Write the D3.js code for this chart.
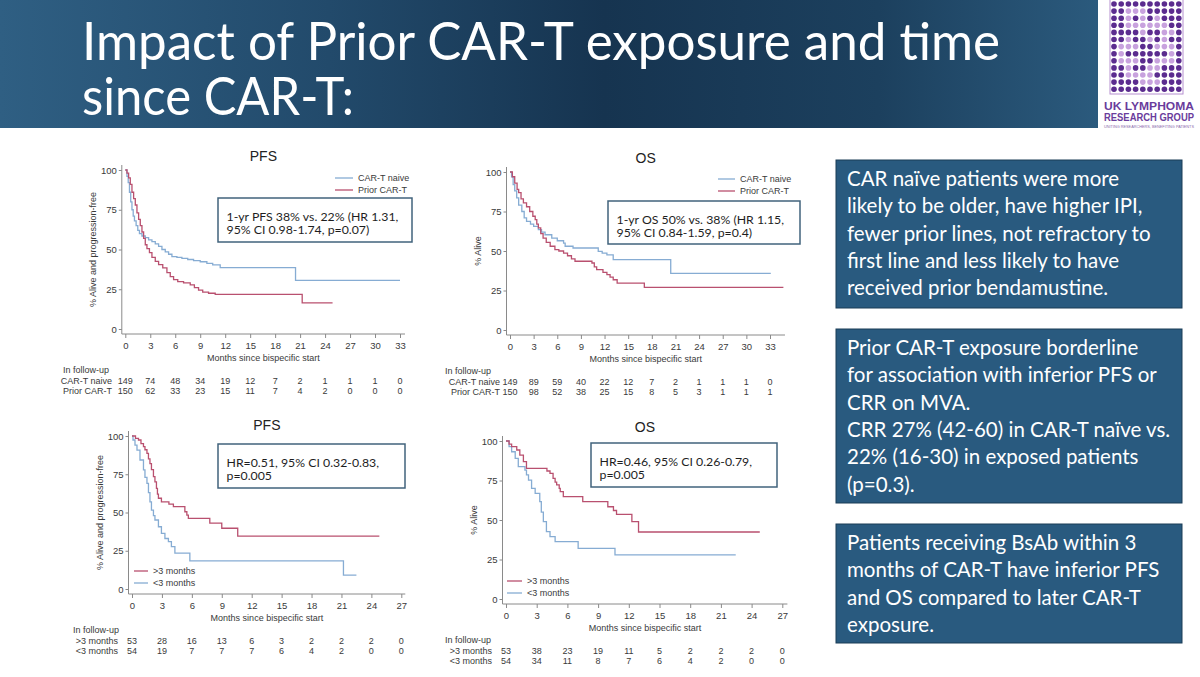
<!DOCTYPE html>
<html lang="en">
<head>
<meta charset="utf-8">
<title>Impact of Prior CAR-T exposure and time since CAR-T</title>
<script src="https://cdn.jsdelivr.net/npm/d3@7"></script>
<style>
  body { margin: 0; background: #fff; }
  svg { display: block; }
</style>
</head>
<body>
<script>
// tick labels
var topTicks = [0, 3, 6, 9, 12, 15, 18, 21, 24, 27, 30, 33];
var bottomTicks = [0, 3, 6, 9, 12, 15, 18, 21, 24, 27];
var yTicks = [0, 25, 50, 75, 100];

// KM steps: [months, %]
var pfsNaive = [[0,100],[0.2,96],[0.35,92],[0.5,86],[0.65,80],[0.8,75],[0.95,71],[1.1,68],[1.3,65],[1.5,62],[1.7,60],[2.0,58.5],[2.4,57.5],[2.8,56],[3.2,55],[3.6,53.5],[4.0,52],[4.4,50],[4.8,48.5],[5.2,47],[5.6,45.5],[6.2,45],[6.8,44.4],[7.5,43.7],[8.2,43],[9.0,42.3],[9.8,41.3],[10.5,40.3],[11.4,38.6],[20.45,30.6],[33.0,30.6]];
var pfsPrior = [[0,100],[0.2,98],[0.4,95],[0.6,91],[0.8,86],[1.0,82],[1.2,78],[1.4,73],[1.6,69],[1.8,65],[2.0,61],[2.2,57],[2.4,53],[2.6,50.5],[2.9,48],[3.2,45],[3.6,42.5],[4.0,40.5],[4.5,38.5],[5.0,35.5],[5.4,33],[5.8,31],[6.3,29.8],[7.0,29],[7.8,27.7],[8.3,26],[8.8,24.5],[9.3,23.2],[10.0,22.5],[10.8,21.8],[21.25,16.4],[24.9,16.4]];
var osNaive = [[0,100],[0.2,97],[0.4,92],[0.6,88],[0.85,83.6],[1.1,79],[1.5,75],[1.8,71],[2.1,68.8],[2.6,67],[3.0,65.6],[3.6,63.5],[4.0,62],[4.45,60.3],[5.3,58.2],[6.0,56.5],[6.8,55],[7.0,53],[8.0,51.9],[11.2,49.8],[11.7,48.7],[12.3,47.6],[13.1,44.5],[20.4,35.9],[33.1,35.9]];
var osPrior = [[0,100],[0.3,97],[0.6,93],[0.9,89],[1.1,87],[1.4,83],[1.7,80.4],[2.1,78],[2.5,75],[2.9,72],[3.2,69.8],[3.4,67],[3.6,64.6],[3.9,61],[4.2,58.2],[4.6,55.5],[5.1,53],[5.7,50.9],[6.2,50],[6.8,48.7],[7.3,47],[7.8,45],[8.25,43.5],[10.4,42.4],[10.7,40],[11.0,38.2],[11.8,36.5],[12.3,35],[12.7,33.5],[13.1,31.8],[13.6,29.7],[17.05,27],[34.7,27]];
var pfsLate = [[0,100],[0.35,98.5],[0.65,97.4],[0.9,95],[1.15,93],[1.3,91],[1.5,88.7],[1.65,85],[1.8,82],[1.95,78],[2.15,73.4],[2.3,70],[2.45,65.8],[2.55,62],[2.65,59.3],[2.95,57],[3.7,55.5],[4.15,53.8],[5.3,50.5],[5.5,48.3],[5.65,46.2],[7.8,43],[9.0,39.7],[10.6,34.6],[24.8,34.6]];
var pfsEarly = [[0,100],[0.1,97.4],[0.3,94],[0.5,90.8],[0.8,84.3],[1.15,77.8],[1.3,73],[1.5,69],[1.65,63],[1.8,57],[1.95,51.6],[2.15,48],[2.3,45.1],[2.65,40.7],[2.95,36.3],[3.3,33],[3.65,31],[3.95,27.7],[4.3,23.4],[5.8,18.4],[21.2,9.1],[22.5,9.1]];
var osLate = [[0,100],[0.3,98],[0.55,96.4],[1.05,94.3],[1.35,91.1],[1.7,86.9],[2.0,82.7],[4.0,81],[4.3,79.5],[4.6,76.4],[4.8,74],[4.95,72.2],[5.2,70],[5.3,67.9],[5.6,64.8],[7.5,61.6],[9.95,58.4],[10.5,56],[10.8,53.6],[12.3,49],[12.95,42.4],[24.8,42.4]];
var osEarly = [[0,100],[0.3,96.5],[0.55,93.2],[0.9,89],[1.2,83.8],[1.85,81.6],[2.0,78.5],[2.2,75.3],[2.5,70],[2.85,66.8],[3.3,61.6],[3.45,55],[3.65,49],[3.95,42.6],[4.3,39.5],[4.8,36.3],[7.05,32.1],[10.65,27.9],[22.45,27.9]];

// numbers in follow-up, one per tick
var pfsRiskNaive = [149, 74, 48, 34, 19, 12, 7, 2, 1, 1, 1, 0];
var pfsRiskPrior = [150, 62, 33, 23, 15, 11, 7, 4, 2, 0, 0, 0];
var osRiskNaive = [149, 89, 59, 40, 22, 12, 7, 2, 1, 1, 1, 0];
var osRiskPrior = [150, 98, 52, 38, 25, 15, 8, 5, 3, 1, 1, 1];
var pfsRiskLate = [53, 28, 16, 13, 6, 3, 2, 2, 2, 0];
var pfsRiskEarly = [54, 19, 7, 7, 7, 6, 4, 2, 0, 0];
var osRiskLate = [53, 38, 23, 19, 11, 5, 2, 2, 2, 0];
var osRiskEarly = [54, 34, 11, 8, 7, 6, 4, 2, 0, 0];

var blue = "#86acd3", red = "#b9506f";
var ink = "#3a3a3a";
var chartFont = "'Liberation Sans', Arial, sans-serif";
var slideFont = "Lato, 'Noto Sans', sans-serif";

var W = 1200, H = 677;
var svg = d3.select("body").append("svg").attr("width", W).attr("height", H);

//Header band
var defs = svg.append("defs");
var grad = defs.append("linearGradient").attr("id", "hdr").attr("x1", "0").attr("x2", "1").attr("y1", "0").attr("y2", "0");
[["0", "#2f5f83"], ["0.3", "#224a6b"], ["0.55", "#163450"], ["0.8", "#1c405e"], ["1", "#2b5a7d"]].forEach(function(s) {
	grad.append("stop").attr("offset", s[0]).attr("stop-color", s[1]);
});
svg.append("rect").attr("x", 0).attr("y", 0).attr("width", 1098).attr("height", 128).attr("fill", "url(#hdr)");

// two-line title kept in one text element
var title = svg.append("text").attr("fill", "#fff")
	.attr("font-family", slideFont).attr("font-size", 53);
title.append("tspan").attr("x", 82).attr("y", 60)
	.attr("textLength", 918).attr("lengthAdjust", "spacingAndGlyphs")
	.text("Impact of Prior CAR-T exposure and time");
title.append("tspan").attr("x", 82).attr("y", 115)
	.attr("textLength", 272).attr("lengthAdjust", "spacingAndGlyphs")
	.text("since CAR-T:");

//Logo
var logoRows = [
	"1111111111",
	"1100011111",
	"1101010111",
	"1100000011",
	"1111011001",
	"1101101011",
	"1000110001",
	"1011111101",
	"1000110001",
	"1101100111",
	"1100001111",
	"1111000111",
	"1111111111"
];
var logo = svg.append("g");
logo.append("rect").attr("x", 1110).attr("y", -1).attr("width", 73).attr("height", 95)
	.attr("fill", "none").attr("stroke", "#b58fd0").attr("stroke-width", 1);
logoRows.forEach(function(row, r) {
	row.split("").forEach(function(c, k) {
		logo.append("circle").attr("cx", 1114 + k * 7.2).attr("cy", 4 + r * 7.1).attr("r", 2.8)
			.attr("fill", c === "1" ? "#5b2c8f" : "#c8a2de");
	});
});
logo.append("text").attr("x", 1104).attr("y", 110)
	.attr("font-family", chartFont).attr("font-weight", "bold")
	.attr("font-size", 10.5).attr("fill", "#6a3c9c")
	.attr("textLength", 90).attr("lengthAdjust", "spacingAndGlyphs").text("UK LYMPHOMA");
logo.append("text").attr("x", 1104).attr("y", 121)
	.attr("font-family", chartFont).attr("font-weight", "bold")
	.attr("font-size", 10).attr("fill", "#6a3c9c")
	.attr("textLength", 90).attr("lengthAdjust", "spacingAndGlyphs").text("RESEARCH GROUP");
logo.append("text").attr("x", 1104).attr("y", 128)
	.attr("font-family", chartFont).attr("font-size", 4).attr("fill", "#8a6aac")
	.attr("textLength", 90).attr("lengthAdjust", "spacingAndGlyphs")
	.text("UNITING RESEARCHERS, BENEFITING PATIENTS");

//Panels
var panels = [
	{ title: "PFS", ticks: topTicks, xEnd: 33.6, x0: 125.3, x1: 400, y0: 329, y1: 170, titleY: 161,
	  yTitle: "% Alive and progression-free",
	  series: [{ data: pfsNaive, color: blue }, { data: pfsPrior, color: red }],
	  legend: { x: 335, y: 178, len: 18, items: [["CAR-T naive", blue], ["Prior CAR-T", red]] },
	  box: { x: 218, y: 198, w: 194, h: 44, lines: ["1-yr PFS 38% vs. 22% (HR 1.31,", "95% CI 0.98-1.74, p=0.07)"] },
	  riskX: 63, labelX: 112, risk: [["CAR-T naive", pfsRiskNaive], ["Prior CAR-T", pfsRiskPrior]] },
	{ title: "OS", ticks: topTicks, xEnd: 34.9, x0: 510, x1: 770, y0: 330, y1: 172, titleY: 163,
	  yTitle: "% Alive",
	  series: [{ data: osNaive, color: blue }, { data: osPrior, color: red }],
	  legend: { x: 718, y: 179, len: 17, items: [["CAR-T naive", blue], ["Prior CAR-T", red]] },
	  box: { x: 608, y: 201, w: 192, h: 43, lines: ["1-yr OS 50% vs. 38% (HR 1.15,", "95% CI 0.84-1.59, p=0.4)"] },
	  riskX: 445, labelX: 500, risk: [["CAR-T naive", osRiskNaive], ["Prior CAR-T", osRiskPrior]] },
	{ title: "PFS", ticks: bottomTicks, xEnd: 27.4, x0: 132, x1: 401.3, y0: 589, y1: 436, titleY: 430,
	  yTitle: "% Alive and progression-free",
	  series: [{ data: pfsEarly, color: blue }, { data: pfsLate, color: red }],
	  legend: { x: 134, y: 571, len: 14, items: [[">3 months", red], ["<3 months", blue]] },
	  box: { x: 218, y: 444, w: 187, h: 44, lines: ["HR=0.51, 95% CI 0.32-0.83,", "p=0.005"] },
	  riskX: 73, labelX: 118, risk: [[">3 months", pfsRiskLate], ["<3 months", pfsRiskEarly]] },
	{ title: "OS", ticks: bottomTicks, xEnd: 27.5, x0: 506, x1: 782.3, y0: 599, y1: 441, titleY: 432,
	  yTitle: "% Alive",
	  series: [{ data: osEarly, color: blue }, { data: osLate, color: red }],
	  legend: { x: 507, y: 581, len: 15, items: [[">3 months", red], ["<3 months", blue]] },
	  box: { x: 591, y: 443, w: 186, h: 44, lines: ["HR=0.46, 95% CI 0.26-0.79,", "p=0.005"] },
	  riskX: 445, labelX: 492, risk: [[">3 months", osRiskLate], ["<3 months", osRiskEarly]] }
];

panels.forEach(function(p) {
	var g = svg.append("g");
	var x = d3.scaleLinear().domain([0, p.ticks[p.ticks.length - 1]]).range([p.x0, p.x1]);
	var y = d3.scaleLinear().domain([0, 100]).range([p.y0, p.y1]);
	var axisX = p.x0 - 3.5, axisY = p.y0 + 5;

	// title
	g.append("text").attr("x", (axisX + x(p.xEnd)) / 2).attr("y", p.titleY).attr("text-anchor", "middle")
		.attr("font-family", chartFont).attr("font-size", 14).attr("fill", "#222").text(p.title);

	// axis lines
	g.append("line").attr("x1", axisX).attr("x2", x(p.xEnd)).attr("y1", axisY).attr("y2", axisY)
		.attr("stroke", "#8a8a8a").attr("stroke-width", 1);
	g.append("line").attr("x1", axisX).attr("x2", axisX).attr("y1", axisY).attr("y2", y(100) - 5)
		.attr("stroke", "#8a8a8a").attr("stroke-width", 1);

	var xa = g.append("g").attr("transform", "translate(0," + axisY + ")")
		.call(d3.axisBottom(x).tickValues(p.ticks).tickSize(4).tickPadding(4.5));
	var ya = g.append("g").attr("transform", "translate(" + axisX + ",0)")
		.call(d3.axisLeft(y).tickValues(yTicks).tickSize(3).tickPadding(2));
	[xa, ya].forEach(function(a) {
		a.select(".domain").remove();
		a.selectAll("line").attr("stroke", "#8a8a8a");
		a.selectAll("text").attr("font-family", chartFont).attr("font-size", 9.5).attr("fill", ink);
	});

	// axis titles
	g.append("text").attr("x", (axisX + x(p.xEnd)) / 2).attr("y", axisY + 26.5).attr("text-anchor", "middle")
		.attr("font-family", chartFont).attr("font-size", 9).attr("fill", ink).text("Months since bispecific start");
	g.append("text").attr("transform", "translate(" + (axisX - 29) + "," + ((y(0) + y(100)) / 2) + ") rotate(-90)")
		.attr("text-anchor", "middle").attr("dy", "0.35em")
		.attr("font-family", chartFont).attr("font-size", 9).attr("fill", ink).text(p.yTitle);

	// curves
	var line = d3.line().curve(d3.curveStepAfter)
		.x(function(d) { return x(d[0]); })
		.y(function(d) { return y(d[1]); });
	p.series.forEach(function(s) {
		g.append("path").datum(s.data).attr("d", line).attr("fill", "none")
			.attr("stroke", s.color).attr("stroke-width", 1.3);
	});

	// legend
	p.legend.items.forEach(function(it, i) {
		var ly = p.legend.y + i * 12;
		g.append("line").attr("x1", p.legend.x).attr("x2", p.legend.x + p.legend.len).attr("y1", ly).attr("y2", ly)
			.attr("stroke", it[1]).attr("stroke-width", 1.3);
		g.append("text").attr("x", p.legend.x + p.legend.len + 5).attr("y", ly).attr("dy", "0.35em")
			.attr("font-family", chartFont).attr("font-size", 9).attr("fill", ink).text(it[0]);
	});

	// annotation box
	g.append("rect").attr("x", p.box.x).attr("y", p.box.y).attr("width", p.box.w).attr("height", p.box.h)
		.attr("fill", "#fff").attr("stroke", "#41637c").attr("stroke-width", 1.5);
	p.box.lines.forEach(function(t, i) {
		g.append("text").attr("x", p.box.x + 8.5).attr("y", p.box.y + 22.5 + i * 13.5)
			.attr("font-family", slideFont).attr("font-size", 12.3).attr("fill", "#1e1e1e").text(t);
	});

	// in follow-up table
	g.append("text").attr("x", p.riskX).attr("y", axisY + 38.5)
		.attr("font-family", chartFont).attr("font-size", 9).attr("fill", ink).text("In follow-up");
	p.risk.forEach(function(r, i) {
		var ry = axisY + 49.5 + i * 10.5;
		g.append("text").attr("x", p.labelX).attr("y", ry).attr("text-anchor", "end")
			.attr("font-family", chartFont).attr("font-size", 9).attr("fill", ink).text(r[0]);
		g.selectAll(null).data(r[1]).enter().append("text")
			.attr("x", function(d, k) { return x(p.ticks[k]); })
			.attr("y", ry).attr("text-anchor", "middle")
			.attr("font-family", chartFont).attr("font-size", 9).attr("fill", ink)
			.text(function(d) { return d; });
	});
});

//Right hand text boxes
var notes = [
	{ y: 160, h: 148, lines: ["CAR naïve patients were more", "likely to be older, have higher IPI,", "fewer prior lines, not refractory to", "first line and less likely to have", "received prior bendamustine."] },
	{ y: 329, h: 174, lines: ["Prior CAR-T exposure borderline", "for association with inferior PFS or", "CRR on MVA.", "CRR 27% (42-60) in CAR-T naïve vs.", "22% (16-30) in exposed patients", "(p=0.3)."] },
	{ y: 524, h: 119, lines: ["Patients receiving BsAb within 3", "months of CAR-T have inferior PFS", "and OS compared to later CAR-T", "exposure."] }
];
notes.forEach(function(n) {
	svg.append("rect").attr("x", 836).attr("y", n.y).attr("width", 346).attr("height", n.h)
		.attr("fill", "#295a7f").attr("stroke", "#1b3c57").attr("stroke-width", 1);
	n.lines.forEach(function(t, i) {
		svg.append("text").attr("x", 847).attr("y", n.y + 26 + i * 27.3)
			.attr("font-family", slideFont).attr("font-size", 20.5).attr("fill", "#fff").text(t);
	});
});
</script>
</body>
</html>
